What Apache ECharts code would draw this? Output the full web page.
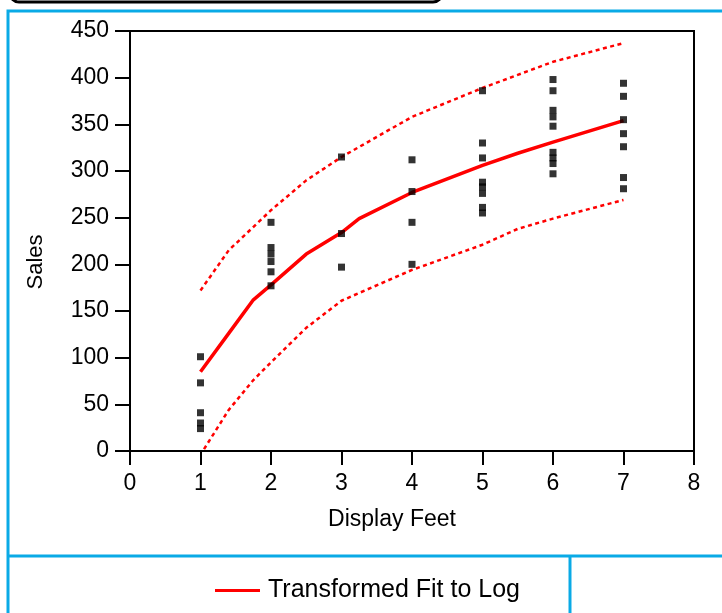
<!DOCTYPE html>
<html>
<head>
<meta charset="utf-8">
<script src="https://cdn.jsdelivr.net/npm/echarts@6/dist/echarts.min.js"></script>
<style>
html,body{margin:0;padding:0;background:#fff;}
#chart{width:722px;height:613px;}
</style>
</head>
<body>
<div id="chart"></div>
<script>
// ---- data ----
var displayFeet = [1, 2, 3, 4, 5, 6, 7];
var salesAt1 = [101, 73, 41, 30, 24];
var salesAt2 = [245, 218, 211, 203, 192, 177];
var salesAt3 = [315, 233, 197];
var salesAt4 = [312, 278, 245, 200];
var salesAt5 = [386, 330, 314, 288, 283, 276, 261, 255];
var salesAt6 = [398, 386, 365, 358, 348, 320, 314, 308, 297];
var salesAt7 = [394, 380, 355, 340, 326, 293, 281];

var fitX = [1, 1.4, 1.75, 2, 2.5, 3, 3.25, 4, 5, 5.5, 6, 7];
var fitY = [85, 126, 162, 178, 211, 234, 249, 277, 306, 319, 331, 354];

var upperX = [1, 1.4, 2, 2.5, 3, 4, 5, 5.5, 6, 7];
var upperY = [172, 215, 258, 290, 315, 358, 389, 403, 417, 437];

var lowerX = [1.05, 1.4, 1.75, 2, 2.5, 3, 4, 5, 5.5, 6, 7];
var lowerY = [2, 44, 76, 95, 132, 161, 194, 221, 238, 249, 269];

var xTicks = [0, 1, 2, 3, 4, 5, 6, 7, 8];
var yTicks = [0, 50, 100, 150, 200, 250, 300, 350, 400, 450];

var fitName = 'Transformed Fit to Log';
var xTitle = 'Display Feet';
var yTitle = 'Sales';

// ---- build ----
var groups = [salesAt1, salesAt2, salesAt3, salesAt4, salesAt5, salesAt6, salesAt7];
var scatterData = [];
groups.forEach(function (g, i) {
  g.forEach(function (v) { scatterData.push([displayFeet[i], v]); });
});
function pairs(xs, ys) { return xs.map(function (x, i) { return [x, ys[i]]; }); }

var FONT = 'Liberation Sans, Arial, Helvetica, sans-serif';
var BLUE = '#0AAAE6';
var chart = echarts.init(document.getElementById('chart'), null, {renderer: 'canvas'});
chart.setOption({
  animation: false,
  backgroundColor: '#fff',
  textStyle: {fontFamily: FONT},
  grid: {
    left: 130, right: 28, top: 31, bottom: 162,
    show: true, borderColor: '#000', borderWidth: 2, backgroundColor: 'transparent'
  },
  xAxis: {
    type: 'value', min: xTicks[0], max: xTicks[xTicks.length - 1], interval: 1,
    axisLine: {show: true, onZero: false, lineStyle: {color: '#000', width: 2}},
    axisTick: {show: true, inside: false, length: 14, lineStyle: {color: '#000', width: 2}},
    axisLabel: {show: true, color: '#000', fontSize: 23, fontFamily: FONT, margin: 21},
    splitLine: {show: false}
  },
  yAxis: {
    type: 'value', min: yTicks[0], max: yTicks[yTicks.length - 1], interval: 50,
    axisLine: {show: true, onZero: false, lineStyle: {color: '#000', width: 2}},
    axisTick: {show: true, inside: false, length: 15, lineStyle: {color: '#000', width: 2}},
    axisLabel: {show: true, color: '#000', fontSize: 23, fontFamily: FONT, margin: 21},
    splitLine: {show: false}
  },
  legend: {
    show: true,
    data: [fitName],
    left: 210, top: 573,
    icon: 'rect', itemWidth: 45, itemHeight: 3,
    selectedMode: false,
    textStyle: {color: '#000', fontSize: 25, fontFamily: FONT, padding: [0, 0, 0, 3]}
  },
  series: [
    {
      name: 'upper', type: 'line', data: pairs(upperX, upperY),
      showSymbol: false, symbol: 'none', smooth: false, z: 2,
      lineStyle: {color: '#FF0000', width: 2.5, type: [4, 3.5]}
    },
    {
      name: 'lower', type: 'line', data: pairs(lowerX, lowerY),
      showSymbol: false, symbol: 'none', smooth: false, z: 2,
      lineStyle: {color: '#FF0000', width: 2.5, type: [4, 3.5]}
    },
    {
      name: fitName, type: 'line', data: pairs(fitX, fitY),
      showSymbol: false, symbol: 'none', smooth: false, z: 3,
      itemStyle: {color: '#FF0000'},
      lineStyle: {color: '#FF0000', width: 3.5}
    },
    {
      name: 'Sales', type: 'scatter', data: scatterData,
      symbol: 'rect', symbolSize: [7, 7], z: 5,
      itemStyle: {color: '#000'}
    }
  ],
  graphic: [
    {type: 'rect', shape: {x: 10, y: -30, width: 432, height: 32, r: 9},
     style: {fill: 'none', stroke: '#000', lineWidth: 3}},
    {type: 'rect', shape: {x: 8, y: 11, width: 760, height: 700},
     style: {fill: 'none', stroke: BLUE, lineWidth: 3}, silent: true},
    {type: 'line', shape: {x1: 8, y1: 556, x2: 722, y2: 556},
     style: {stroke: BLUE, lineWidth: 3}},
    {type: 'line', shape: {x1: 570, y1: 556, x2: 570, y2: 613},
     style: {stroke: BLUE, lineWidth: 3}},
    {type: 'text', x: 36, y: 262, rotation: Math.PI / 2,
     style: {text: yTitle, fontSize: 22, fontFamily: FONT, fill: '#000',
             textAlign: 'center', textVerticalAlign: 'middle'}},
    {type: 'text', x: 392, y: 520,
     style: {text: xTitle, fontSize: 23, fontFamily: FONT, fill: '#000',
             textAlign: 'center', textVerticalAlign: 'middle'}}
  ]
});
</script>
</body>
</html>
